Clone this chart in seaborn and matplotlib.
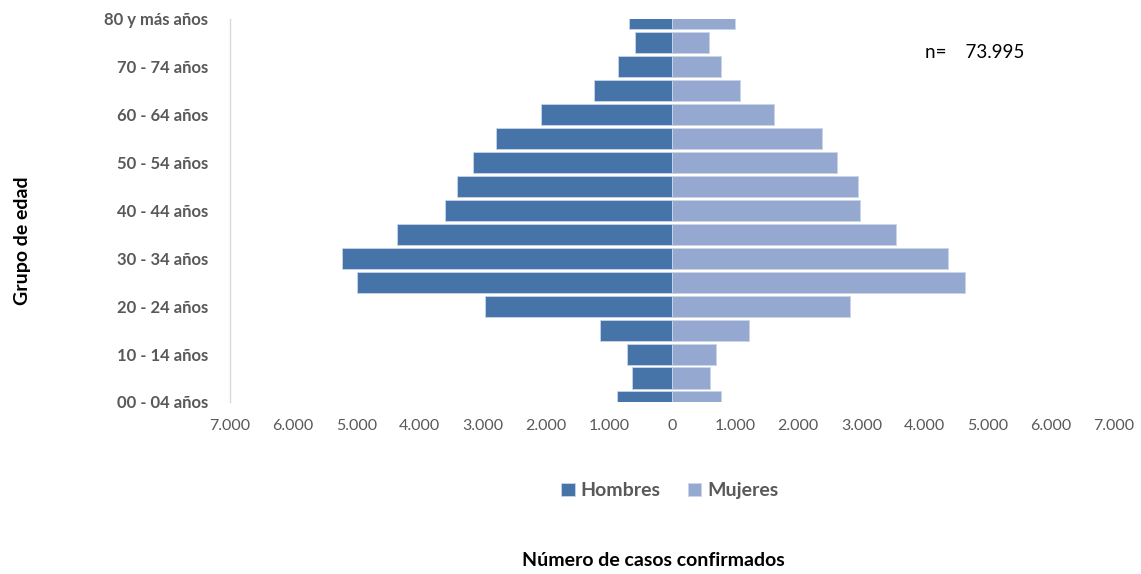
import matplotlib.pyplot as plt
import pandas as pd
import seaborn as sns
from matplotlib.ticker import FixedLocator, FuncFormatter

# Grupos de edad, de menor a mayor
grupos = [
    "00 - 04 años", "05 - 09 años", "10 - 14 años", "15 - 19 años",
    "20 - 24 años", "25 - 29 años", "30 - 34 años", "35 - 39 años",
    "40 - 44 años", "45 - 49 años", "50 - 54 años", "55 - 59 años",
    "60 - 64 años", "65 - 69 años", "70 - 74 años", "75 - 79 años",
    "80 y más años",
]
hombres = [870, 630, 710, 1140, 2960, 4990, 5230, 4360, 3600, 3410,
           3150, 2780, 2080, 1240, 860, 590, 680]
mujeres = [780, 600, 700, 1220, 2820, 4640, 4370, 3550, 2980, 2950,
           2620, 2380, 1620, 1080, 780, 590, 1000]
x_ticks = list(range(-7000, 7001, 1000))

sns.set_theme(style="white")
plt.rcParams["font.family"] = ["Lato", "DejaVu Sans"]

# Long format: hombres a la izquierda (negativo)
df = pd.DataFrame({
    "Grupo": grupos * 2,
    "Casos": [-v for v in hombres] + mujeres,
    "Sexo": ["Hombres"] * len(grupos) + ["Mujeres"] * len(grupos),
})

orden = grupos[::-1]  # 80+ arriba

fig = plt.figure(figsize=(11.41, 5.74), dpi=100)
ax = fig.add_axes([0.2016, 0.2997, 0.7747, 0.6673])

sns.barplot(
    data=df, x="Casos", y="Grupo", hue="Sexo", order=orden,
    hue_order=["Hombres", "Mujeres"], dodge=False, orient="h",
    palette={"Hombres": "#4673A8", "Mujeres": "#95A9D0"}, saturation=1,
    width=0.88, edgecolor="#C9D5EA", linewidth=0.6, legend=True, ax=ax,
)

ax.set_xlim(-7000, 7000)
ax.set_ylim(len(grupos) - 1, 0)

ax.xaxis.set_major_locator(FixedLocator(x_ticks))
ax.xaxis.set_major_formatter(
    FuncFormatter(lambda v, p: f"{abs(int(v)):,}".replace(",", "."))
)
ax.tick_params(axis="x", length=0, labelsize=11.5, labelcolor="#595959", pad=12)

pos = list(range(0, len(orden), 2))
ax.set_yticks(pos)
ax.set_yticklabels([orden[i] for i in pos], fontsize=12,
                   fontweight="bold", color="#595959")
ax.tick_params(axis="y", length=0, pad=16)

for s in ["top", "right", "bottom"]:
    ax.spines[s].set_visible(False)
ax.spines["left"].set_color("#D9D9D9")
ax.spines["left"].set_linewidth(1)

ax.set_xlabel("")
ax.set_ylabel("")
fig.text(0.0193, 0.58, "Grupo de edad", rotation=90, ha="center",
         va="center", fontsize=14, fontweight="bold", color="black")
fig.text(0.573, 0.024, "Número de casos confirmados", ha="center",
         va="center", fontsize=14, fontweight="bold", color="black")

ax.text(0.811, 0.909, "n=    73.995", transform=fig.transFigure,
        fontsize=13.5, color="black", va="center", ha="left")

handles, labels = ax.get_legend_handles_labels()
ax.get_legend().remove()
leg = fig.legend(handles, labels, loc="center", bbox_to_anchor=(0.587, 0.145),
                 ncol=2, frameon=False, handlelength=0.7, handleheight=0.7,
                 handletextpad=0.3, columnspacing=1.4,
                 prop={"size": 14, "weight": "bold"})
for t in leg.get_texts():
    t.set_color("#595959")

fig.savefig("out.png", dpi=100)
plt.close(fig)
